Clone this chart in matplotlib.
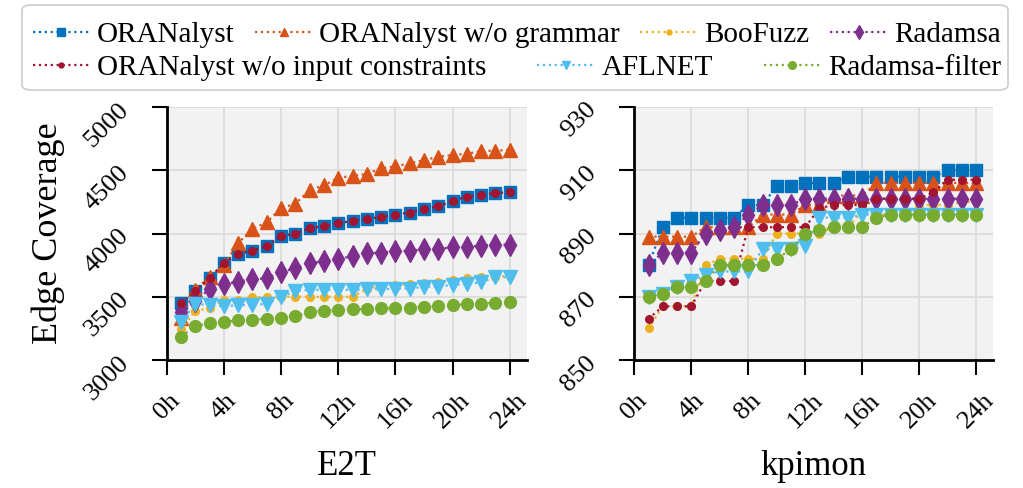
import matplotlib
matplotlib.use("Agg")
import matplotlib.pyplot as plt
from matplotlib.patches import FancyBboxPatch

plt.rcParams['font.family'] = 'serif'
plt.rcParams['font.serif'] = ['Liberation Serif', 'DejaVu Serif']

# --- data: hours 1..24 ---
hours = list(range(1, 25))

# E2T
ora_e2t = [3450, 3545, 3650, 3765, 3840, 3865, 3900, 3980, 4000, 4040, 4060, 4080,
           4100, 4115, 4130, 4150, 4165, 4190, 4215, 4260, 4290, 4305, 4320, 4325]
grammar_e2t = [3330, 3555, 3660, 3755, 3925, 4035, 4090, 4200, 4235, 4345, 4380, 4440,
               4455, 4470, 4515, 4530, 4555, 4580, 4605, 4620, 4630, 4650, 4655, 4660]
boofuzz_e2t = [3245, 3390, 3410, 3475, 3475, 3495, 3500, 3500, 3500, 3500, 3500, 3500,
               3500, 3565, 3580, 3595, 3600, 3610, 3615, 3630, 3645, 3655, 3660, 3665]
radamsa_e2t = [3380, 3470, 3560, 3600, 3620, 3640, 3645, 3695, 3725, 3765, 3780, 3800,
               3820, 3845, 3850, 3858, 3865, 3875, 3880, 3890, 3895, 3905, 3910, 3912]
noinput_e2t = [3450, 3545, 3650, 3765, 3840, 3865, 3900, 3980, 4000, 4040, 4060, 4080,
               4100, 4115, 4130, 4150, 4165, 4190, 4215, 4260, 4290, 4305, 4320, 4325]
aflnet_e2t = [3300, 3445, 3435, 3425, 3435, 3435, 3445, 3500, 3545, 3555, 3555, 3555,
              3555, 3560, 3560, 3565, 3565, 3580, 3580, 3595, 3600, 3615, 3655, 3655]
filter_e2t = [3185, 3270, 3290, 3300, 3315, 3320, 3325, 3335, 3345, 3380, 3390, 3395,
              3400, 3405, 3408, 3410, 3415, 3420, 3425, 3435, 3440, 3445, 3455, 3460]

# kpimon
ora_kpi = [880, 892, 895, 895, 895, 895, 895, 899, 899, 905, 905, 906,
           906, 906, 908, 908, 908, 908, 908, 908, 908, 910, 910, 910]
grammar_kpi = [889, 889, 889, 889, 892, 892, 892, 892, 896, 896, 896, 899,
               899, 902, 902, 902, 906, 906, 906, 906, 906, 906, 906, 906]
boofuzz_kpi = [860, 867, 867, 867, 880, 882, 882, 882, 882, 890, 890, 890,
               890, 892, 892, 897, 896, 896, 896, 899, 899, 899, 900, 900]
radamsa_kpi = [880, 884, 884, 884, 890, 891, 892, 896, 899, 899, 899, 901,
               901, 901, 901, 901, 901, 901, 901, 901, 901, 901, 901, 901]
noinput_kpi = [863, 867, 867, 867, 875, 875, 875, 892, 892, 892, 892, 892,
               898, 899, 899, 899, 901, 901, 901, 901, 903, 907, 907, 907]
aflnet_kpi = [870, 871, 873, 875, 877, 878, 878, 878, 885, 885, 885, 886,
              895, 895, 895, 896, 896, 896, 896, 896, 896, 896, 896, 896]
filter_kpi = [870, 871, 873, 873, 875, 880, 880, 880, 880, 882, 885, 890,
              891, 892, 892, 892, 895, 896, 896, 896, 896, 896, 896, 896]

labels = ['ORANalyst', 'ORANalyst w/o grammar', 'BooFuzz', 'Radamsa',
          'ORANalyst w/o input constraints', 'AFLNET', 'Radamsa-filter']
colors = ['#0072BD', '#D95319', '#EDB120', '#7E2F8E', '#A2142F', '#4DBEEE', '#77AC30']
markers = ['s', '^', 'o', 'd', 'o', 'v', 'o']
msizes = [8.5, 9.5, 5.5, 11, 5.5, 9.5, 8.5]

e2t = [ora_e2t, grammar_e2t, boofuzz_e2t, radamsa_e2t, noinput_e2t, aflnet_e2t, filter_e2t]
kpi = [ora_kpi, grammar_kpi, boofuzz_kpi, radamsa_kpi, noinput_kpi, aflnet_kpi, filter_kpi]

xticks = [0, 4, 8, 12, 16, 20, 24]
xticklabels = ['0h', '4h', '8h', '12h', '16h', '20h', '24h']

fig = plt.figure(figsize=(10.23, 4.88), dpi=100)
ax1 = fig.add_axes([0.163, 0.262, 0.352, 0.519])
ax2 = fig.add_axes([0.620, 0.262, 0.351, 0.519])


def style(ax, ylim, yticks, xlabel):
    ax.set_facecolor('#f2f2f2')
    ax.grid(True, color='#d9d9d9', linewidth=1.2)
    ax.set_axisbelow(True)
    for s in ['top', 'right']:
        ax.spines[s].set_visible(False)
    for s in ['left', 'bottom']:
        ax.spines[s].set_linewidth(2)
        ax.spines[s].set_color('black')
    ax.set_xlim(0, 25.2)
    ax.set_ylim(*ylim)
    ax.set_yticks(yticks)
    ax.set_xticks(xticks)
    ax.set_xticklabels(xticklabels, rotation=45)
    plt.setp(ax.get_yticklabels(), rotation=45)
    ax.tick_params(direction='out', length=11, width=1.5, labelsize=19)
    ax.tick_params(axis='y', pad=13)
    ax.tick_params(axis='x', pad=10)
    ax.set_xlabel(xlabel, fontsize=25, labelpad=12)


handles = []
for i in range(7):
    h, = ax1.plot(hours, e2t[i], linestyle=':', linewidth=1.6, color=colors[i],
                  marker=markers[i], markersize=msizes[i], label=labels[i])
    handles.append(h)
    ax2.plot(hours, kpi[i], linestyle=':', linewidth=1.6, color=colors[i],
             marker=markers[i], markersize=msizes[i])

style(ax1, (3000, 5000), [3000, 3500, 4000, 4500, 5000], 'E2T')
style(ax2, (850, 930), [850, 870, 890, 910, 930], 'kpimon')
ax1.set_ylabel('Edge Coverage', fontsize=26, labelpad=11)

# legend frame + two rows
frame = FancyBboxPatch((22 / 1023, 1 - 90 / 488), 986 / 1023, 85 / 488,
                       boxstyle='round,pad=0,rounding_size=0.01',
                       transform=fig.transFigure, facecolor='white',
                       edgecolor='#cccccc', linewidth=1.2)
fig.add_artist(frame)

leg_kw = dict(frameon=False, fontsize=21, handlelength=1.95, handletextpad=0.25,
              borderpad=0, borderaxespad=0, mode='expand', markerscale=0.65,
              loc='center')
leg1 = fig.legend(handles=handles[:4], ncol=4,
                  bbox_to_anchor=(33 / 1023, 0.928, 968 / 1023, 0.0), **leg_kw)
leg2 = fig.legend(handles=handles[4:], ncol=3,
                  bbox_to_anchor=(33 / 1023, 0.861, 968 / 1023, 0.0), **leg_kw)

fig.savefig('out.png', dpi=100)
